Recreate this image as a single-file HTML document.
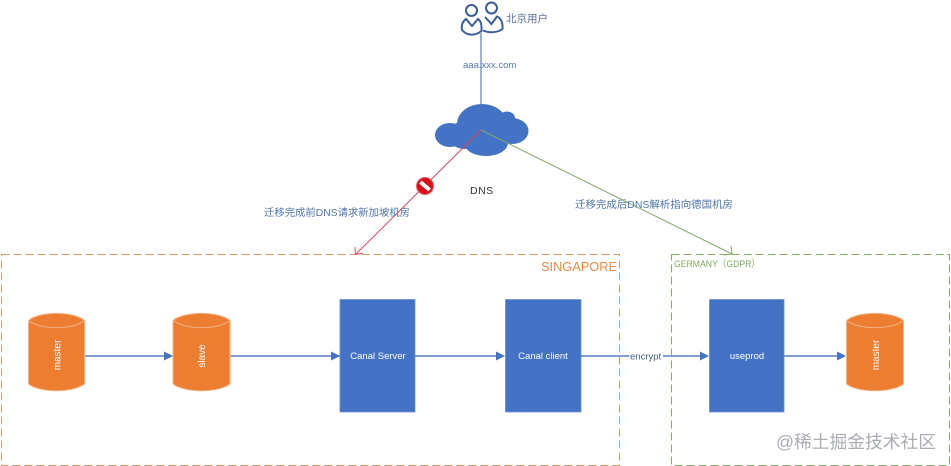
<!DOCTYPE html>
<html><head><meta charset="utf-8"><style>
html,body{margin:0;padding:0;background:#fff}
svg{display:block}
text{font-family:"Liberation Sans","Noto Sans CJK SC",sans-serif}
</style></head><body>
<svg width="951" height="466" viewBox="0 0 951 466" xmlns="http://www.w3.org/2000/svg">
<rect width="951" height="466" fill="#fff"/>
<!-- region boxes -->
<rect x="1.500" y="254.500" width="618" height="211" fill="none" stroke="#dc9a66" stroke-width="1" stroke-dasharray="8 4"/>
<rect x="671.500" y="254.500" width="278" height="211" fill="none" stroke="#8aab68" stroke-width="1" stroke-dasharray="8 4"/>
<text x="541" y="271" font-size="13" fill="#e98a45" textLength="76" lengthAdjust="spacingAndGlyphs">SINGAPORE</text>
<text x="674" y="267" font-size="9.500" fill="#7fa95c" textLength="86" lengthAdjust="spacingAndGlyphs">GERMANY（GDPR）</text>
<!-- user line -->
<line x1="481" y1="33" x2="481" y2="106" stroke="#5b86bd" stroke-width="1.200"/>
<!-- users -->
<g fill="none" stroke="#3b5f9c" stroke-width="2">
<circle cx="491.500" cy="8" r="5.500"/>
<path d="M485 17 L491.500 24 L497 16.500 C501 18 503 23 502.500 29 C497 33 489 33 483 30.500"/>
<circle cx="471.500" cy="10.500" r="5.500"/>
<path d="M462 30 C461 25 463 21 466 19 L472 26 L478 19 C481 21 482 26 481.500 31 C475 36 467 36 462 30 Z" fill="#fff"/>
</g>
<line x1="481" y1="35" x2="481" y2="40" stroke="#5b86bd" stroke-width="1.200"/>
<text x="506" y="22" font-size="10.500" fill="#5b6f9c">北京用户</text>
<text x="463" y="68" font-size="9.500" fill="#5578ae">aaa.xxx.com</text>
<!-- cloud -->
<g fill="#4472c4">
<ellipse cx="450" cy="135" rx="15" ry="12"/>
<ellipse cx="465" cy="133" rx="15" ry="12"/>
<ellipse cx="466" cy="140" rx="16" ry="9"/>
<ellipse cx="482" cy="124" rx="25" ry="20"/>
<ellipse cx="507" cy="118" rx="8" ry="6.500"/>
<ellipse cx="512" cy="131" rx="16.500" ry="13"/>
<ellipse cx="486" cy="143" rx="22" ry="13"/>
<ellipse cx="497" cy="135" rx="18" ry="11"/>
</g>
<!-- DNS lines -->
<line x1="481" y1="130" x2="356" y2="254" stroke="#d8445a" stroke-width="1"/>
<path d="M355 247 L355.500 254.500 L363 253" fill="none" stroke="#e0505a" stroke-width="1"/>
<line x1="481" y1="130" x2="732" y2="254" stroke="#86a86a" stroke-width="1"/>
<path d="M731 246 L732 254 L724 255" fill="none" stroke="#86a86a" stroke-width="1"/>
<!-- no sign -->
<circle cx="425" cy="186" r="8.500" fill="#d9101c" stroke="#e8606a" stroke-width="1"/>
<rect x="419" y="184" width="12" height="4" fill="#fff" transform="rotate(40 425 186)"/>
<text x="470" y="194" font-size="10.500" fill="#333" letter-spacing=".5">DNS</text>
<text x="264" y="216" font-size="10.400" fill="#4f74ad" textLength="146" lengthAdjust="spacingAndGlyphs">迁移完成前DNS请求新加坡机房</text>
<text x="575" y="208" font-size="10.400" fill="#4f74ad" textLength="158" lengthAdjust="spacingAndGlyphs">迁移完成后DNS解析指向德国机房</text>
<!-- flow lines -->
<g stroke="#7f9fcf" stroke-width="2">
<line x1="84" y1="356" x2="165" y2="356"/>
<line x1="230" y1="356" x2="340" y2="356"/>
<line x1="415" y1="356" x2="497" y2="356"/>
<line x1="581" y1="356" x2="701" y2="356"/>
<line x1="784" y1="356" x2="838" y2="356"/>
</g>
<g fill="#4472c4">
<path d="M164 351.500 L173 356 L164 360.500 Z"/>
<path d="M331 351.500 L340 356 L331 360.500 Z"/>
<path d="M496 351.500 L505 356 L496 360.500 Z"/>
<path d="M700 351.500 L709 356 L700 360.500 Z"/>
<path d="M837 351.500 L846 356 L837 360.500 Z"/>
</g>
<rect x="629" y="350" width="34" height="12" fill="#fff"/>
<text x="630" y="359.500" font-size="9.500" fill="#46608f">encrypt</text>
<!-- rects -->
<g fill="#4472c4" stroke="#6d8fd0" stroke-width=".8">
<rect x="340" y="299.500" width="75" height="112.500"/>
<rect x="505.500" y="299.500" width="75.500" height="112.500"/>
<rect x="709.500" y="299.500" width="74.500" height="112.500"/>
</g>
<g fill="#fff" font-size="9.500" text-anchor="middle">
<text x="378" y="359">Canal Server</text>
<text x="543" y="359">Canal client</text>
<text x="747" y="359">useprod</text>
</g>
<!-- cylinders -->
<g fill="#ed7d31" stroke="#f4b183" stroke-width="1">
<path d="M28.500 320.500 C40 311 73 311 84.500 320.500 L84.500 384 C73 393 40 393 28.500 384 Z"/>
<path d="M28.500 320.500 C40 330 73 330 84.500 320.500" fill="none"/>
<path d="M173 320.500 C185 311 218 311 230 320.500 L230 384 C218 393 185 393 173 384 Z"/>
<path d="M173 320.500 C185 330 218 330 230 320.500" fill="none"/>
<path d="M846.500 320.500 C858 311 892 311 903.500 320.500 L903.500 384 C892 393 858 393 846.500 384 Z"/>
<path d="M846.500 320.500 C858 330 892 330 903.500 320.500" fill="none"/>
</g>
<g fill="#fff" font-size="10" text-anchor="middle">
<text transform="translate(60.500 355) rotate(-90)">master</text>
<text transform="translate(205 356) rotate(-90)">slave</text>
<text transform="translate(879 355) rotate(-90)">master</text>
</g>
<!-- watermark -->
<text x="776" y="448" font-size="17.600" fill="#a9adb3" textLength="160" lengthAdjust="spacingAndGlyphs">@稀土掘金技术社区</text>
</svg>
</body></html>
